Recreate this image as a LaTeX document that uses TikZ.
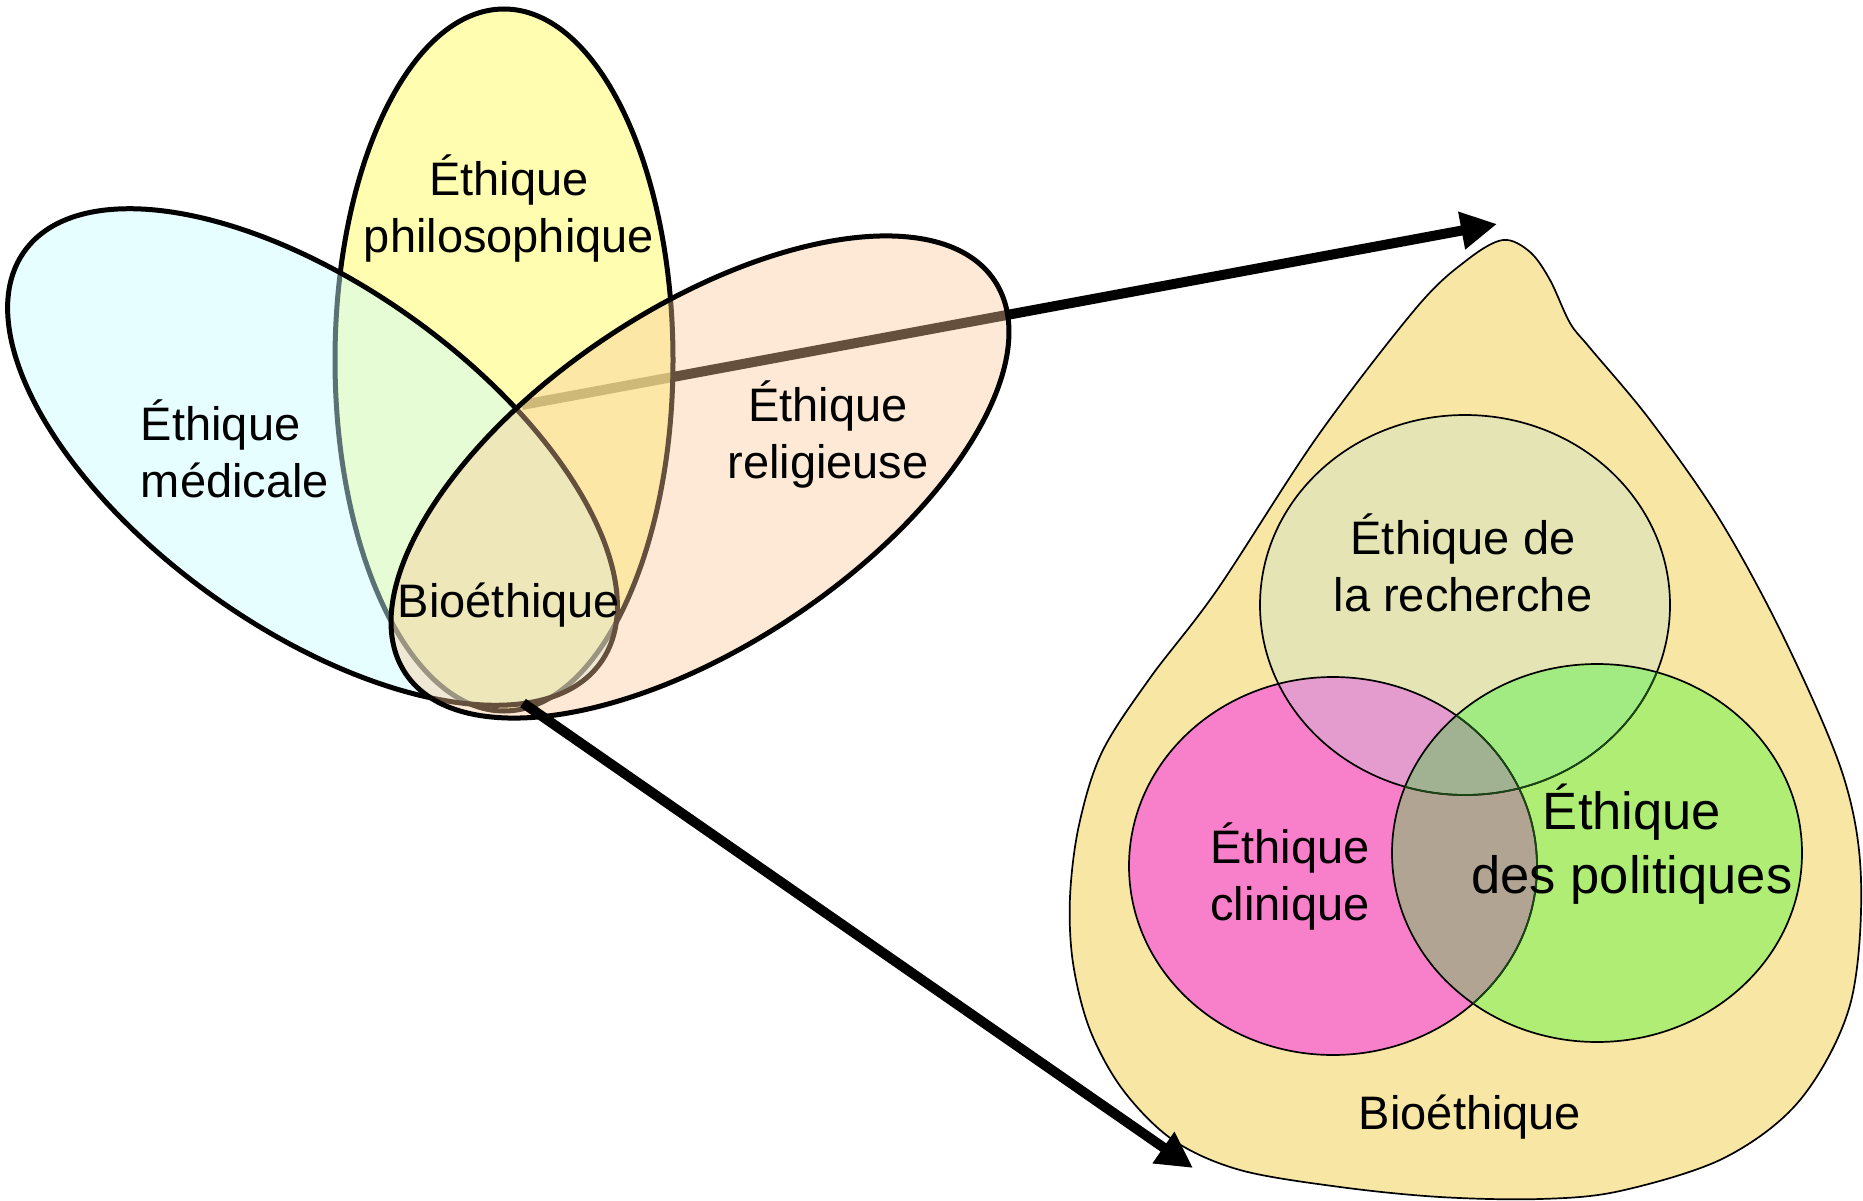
\documentclass[tikz,border=0pt]{standalone}
\usepackage{fontspec}
\setmainfont{Liberation Sans}
\usetikzlibrary{arrows.meta}
\definecolor{medblue}{RGB}{200,253,255}
\definecolor{philyellow}{RGB}{255,252,143}
\definecolor{relorange}{RGB}{250,200,150}
\definecolor{dropfill}{RGB}{248,231,164}
\definecolor{rechfill}{RGB}{229,228,180}
\definecolor{clinfill}{RGB}{248,128,203}
\definecolor{polfill}{RGB}{175,237,116}
\definecolor{rechclin}{RGB}{228,156,206}
\definecolor{rechpol}{RGB}{162,234,130}
\definecolor{clinpol}{RGB}{178,164,146}
\definecolor{allthree}{RGB}{160,178,145}
\definecolor{darkrim}{RGB}{25,70,20}
\newcommand{\rechshape}{(1465,605) ellipse [x radius=205, y radius=190]}
\newcommand{\clinshape}{(1333,866) ellipse [x radius=204, y radius=189]}
\newcommand{\polshape}{(1597,853) ellipse [x radius=205, y radius=189]}
\tikzset{
  lbl/.style={align=center, inner sep=0pt, font=\fontsize{47}{57}\selectfont},
  petal/.style={draw=black, line width=5pt},
  rim/.style={draw=black, line width=1.7pt},
  bigarrow/.style={line width=10pt, -{Triangle[length=36pt,width=36pt]}}
}
\begin{document}
\begin{tikzpicture}[x=1pt,y=-1pt]
\useasboundingbox (0,0) rectangle (1863,1201);
\filldraw[rim, fill=dropfill] plot[smooth cycle, tension=0.55] coordinates {(1503,240) (1530,252) (1550,280) (1570,323) (1590,348) (1650,420) (1720,520) (1785,640) (1843,775) (1861,880) (1850,1005) (1800,1100) (1724,1158) (1620,1191) (1540,1199) (1440,1197) (1340,1187) (1240,1170) (1173,1140) (1123,1090) (1090,1030) (1073,963) (1070,897) (1079,825) (1102,752) (1150,678) (1217,590) (1317,437) (1417,307) (1467,260)};
\fill[rechfill] \rechshape;
\fill[clinfill] \clinshape;
\fill[polfill] \polshape;
\begin{scope}
  \clip \rechshape;
  \fill[rechclin] \clinshape;
  \fill[rechpol] \polshape;
\end{scope}
\begin{scope}
  \clip \clinshape;
  \fill[clinpol] \polshape;
  \clip \rechshape;
  \fill[allthree] \polshape;
\end{scope}
\draw[rim] \rechshape;
\draw[rim] \clinshape;
\draw[rim] \polshape;
\begin{scope}
  \clip \polshape;
  \draw[rim, draw=darkrim] \rechshape;
  \draw[rim, draw=darkrim] \clinshape;
\end{scope}
\coordinate (core) at (522,405);
\coordinate (top) at (1497,224);
\coordinate (base) at (523,703);
\coordinate (low) at (1193,1168);
\draw[bigarrow] (core) -- (top);
\filldraw[petal, fill=philyellow, fill opacity=.7] (504,360) ellipse [x radius=169, y radius=351];
\filldraw[petal, fill=medblue, fill opacity=.45, rotate around={-35.5:(312.5,457)}] (312.5,457) ellipse [x radius=354, y radius=171];
\filldraw[petal, fill=relorange, fill opacity=.4, rotate around={33.7:(700,477)}] (700,477) ellipse [x radius=354, y radius=168];
\draw[bigarrow] (base) -- (low);
\node[lbl] at (509,208) (philo) {Éthique\\philosophique};
\node[lbl, align=left] at (235,449) (med) {Éthique\\médicale};
\node[lbl] at (828,434) (rel) {Éthique\\religieuse};
\node[lbl, anchor=base] at (509,617) (bio) {Bioéthique};
\node[lbl] at (1463,563) (rech) {Éthique de\\la recherche};
\node[lbl] at (1290,876) (clin) {Éthique\\clinique};
\node[lbl, font=\fontsize{52.5}{64}\selectfont] at (1632,844) (pol) {Éthique\\des politiques};
\node[lbl, anchor=base] at (1470,1129) (biodrop) {Bioéthique};
\end{tikzpicture}
\end{document}
